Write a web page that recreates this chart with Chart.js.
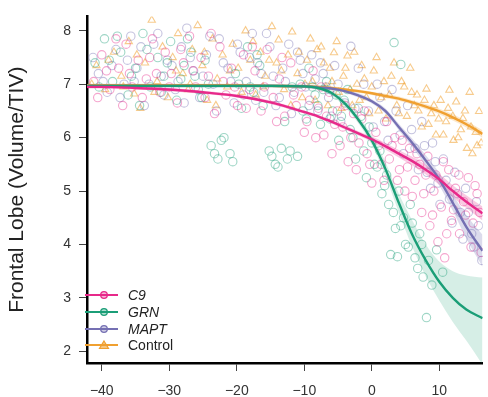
<!DOCTYPE html>
<html>
<head>
<meta charset="utf-8">
<script src="https://cdn.jsdelivr.net/npm/chart.js@4.4.1/dist/chart.umd.min.js"></script>
<style>
  body { margin: 0; background: #fff; }
  #wrap { position: relative; width: 488px; height: 397px; }
  #legend { position: absolute; left: 85px; top: 287px; font: 14px "Liberation Sans", Arial, sans-serif; color: #222; }
  #legend div { height: 16.7px; display: flex; align-items: center; }
  #legend svg { margin-right: 10px; }
  #legend i { font-style: italic; }
</style>
</head>
<body>
<div id="wrap">
  <canvas id="lobeChart" width="488" height="397"></canvas>
  <div id="legend"></div>
</div>
<script>
// --- data ---
const xTicks = [-40, -30, -20, -10, 0, 10];
const yTicks = [2, 3, 4, 5, 6, 7, 8];

const groups = ['C9', 'GRN', 'MAPT', 'Control'];
const colors = ['#E7298A', '#1B9E77', '#7570B3', '#F0A030'];

// fitted curves (x positions shared)
const fitX = [-42.2, -40, -35, -30, -25, -20, -15, -10, -8, -6, -4, -2, 0, 2, 4, 6, 8, 10, 12, 14, 16.4];
const c9Fit   = [6.95, 6.95, 6.93, 6.9, 6.85, 6.78, 6.66, 6.48, 6.4, 6.3, 6.19, 6.08, 5.97, 5.84, 5.7, 5.56, 5.4, 5.22, 5.0, 4.8, 4.58];
const c9Hi    = [6.98, 6.98, 6.96, 6.93, 6.88, 6.81, 6.69, 6.51, 6.43, 6.33, 6.23, 6.12, 6.02, 5.9, 5.77, 5.64, 5.49, 5.32, 5.11, 4.92, 4.71];
const c9Lo    = [6.92, 6.92, 6.9, 6.87, 6.82, 6.75, 6.63, 6.45, 6.37, 6.27, 6.15, 6.04, 5.92, 5.78, 5.63, 5.48, 5.31, 5.12, 4.89, 4.68, 4.45];
const grnFit  = [6.97, 6.97, 6.97, 6.97, 6.97, 6.97, 6.97, 6.96, 6.93, 6.84, 6.64, 6.34, 5.95, 5.42, 4.78, 4.18, 3.7, 3.3, 3.0, 2.78, 2.62];
const grnHi   = [7.0, 7.0, 7.0, 7.0, 7.0, 7.0, 7.0, 6.99, 6.97, 6.89, 6.7, 6.41, 6.04, 5.55, 4.95, 4.45, 4.0, 3.68, 3.5, 3.42, 3.38];
const grnLo   = [6.94, 6.94, 6.94, 6.94, 6.94, 6.94, 6.94, 6.93, 6.89, 6.79, 6.58, 6.27, 5.86, 5.29, 4.6, 3.95, 3.4, 2.95, 2.55, 2.2, 1.75];
const maptFit = [6.97, 6.97, 6.97, 6.97, 6.97, 6.97, 6.97, 6.96, 6.94, 6.92, 6.87, 6.79, 6.68, 6.5, 6.2, 5.9, 5.57, 5.22, 4.78, 4.33, 3.88];
const maptHi  = [7.0, 7.0, 7.0, 7.0, 7.0, 7.0, 7.0, 6.99, 6.97, 6.95, 6.9, 6.83, 6.72, 6.55, 6.26, 5.98, 5.67, 5.34, 4.93, 4.55, 4.18];
const maptLo  = [6.94, 6.94, 6.94, 6.94, 6.94, 6.94, 6.94, 6.93, 6.91, 6.89, 6.84, 6.75, 6.64, 6.45, 6.14, 5.82, 5.47, 5.1, 4.63, 4.11, 3.58];
const ctrlFit = [6.98, 6.98, 6.98, 6.98, 6.98, 6.98, 6.97, 6.96, 6.95, 6.93, 6.9, 6.87, 6.83, 6.78, 6.73, 6.66, 6.58, 6.49, 6.38, 6.25, 6.07];
const ctrlHi  = [7.01, 7.01, 7.01, 7.01, 7.01, 7.01, 7.0, 6.99, 6.98, 6.96, 6.93, 6.9, 6.86, 6.82, 6.77, 6.7, 6.63, 6.54, 6.44, 6.31, 6.14];
const ctrlLo  = [6.95, 6.95, 6.95, 6.95, 6.95, 6.95, 6.94, 6.93, 6.92, 6.9, 6.87, 6.84, 6.8, 6.74, 6.69, 6.62, 6.53, 6.44, 6.32, 6.19, 6.0];

// observations [years to onset, volume/TIV]
const c9Points = [[-41.2,7.05],[-40.0,7.55],[-38.8,6.9],[-37.5,7.3],[-36.4,7.75],[-35.5,6.95],[-34.6,7.45],[-33.4,7.1],[-32.5,7.85],[-31.4,6.85],[-30.6,7.6],[-29.7,7.2],[-28.8,6.65],[-27.9,7.4],[-27.0,7.9],[-26.1,6.95],[-25.3,7.5],[-24.2,7.15],[-23.3,6.45],[-22.5,7.7],[-21.6,6.8],[-20.8,7.3],[-19.9,6.6],[-19.0,7.55],[-18.1,6.9],[-17.3,7.25],[-16.4,6.5],[-15.5,7.65],[-14.6,6.75],[-13.7,7.1],[-12.9,6.4],[-12.0,7.4],[-11.2,6.6],[-10.4,6.95],[-9.6,6.3],[-8.7,7.25],[-7.9,6.55],[-7.1,6.05],[-6.3,6.85],[-5.5,6.25],[-4.7,5.85],[-3.9,6.6],[-3.1,6.0],[-2.3,5.4],[-1.5,6.35],[-0.7,5.7],[0.0,5.15],[0.6,6.1],[1.4,5.5],[2.2,6.3],[3.0,5.85],[3.8,5.2],[4.5,5.95],[5.3,5.45],[6.0,4.9],[6.7,5.7],[7.4,4.6],[8.0,5.3],[8.6,4.35],[9.2,5.0],[9.8,4.05],[10.3,4.7],[10.8,3.75],[11.4,5.4],[11.8,4.45],[12.4,5.05],[13.0,4.2],[13.6,4.8],[14.3,5.25],[15.0,4.4],[15.6,4.95],[16.2,3.85],
  [-40.6,6.75],[-39.3,7.25],[-37.9,7.85],[-36.9,6.6],[-35.9,7.2],[-34.0,6.75],[-32.9,7.5],[-31.9,7.2],[-30.0,6.95],[-28.3,7.65],[-26.5,7.25],[-24.7,6.75],[-23.8,7.95],[-22.0,7.05],[-20.3,6.95],[-18.6,6.55],[-17.7,7.7],[-15.9,6.95],[-14.1,6.3],[-13.3,7.5],[-11.6,6.8],[-10.0,6.1],[-9.2,6.7],[-8.3,6.0],[-7.5,6.95],[-6.7,6.4],[-5.9,5.7],[-5.1,6.5],[-4.3,6.2],[-3.5,5.55],[-2.7,6.45],[-1.9,5.9],[-1.1,6.5],[-0.3,5.5],[1.0,5.85],[1.8,5.2],[2.6,5.6],[3.4,6.0],[4.1,5.4],[4.9,5.0],[5.6,5.8],[6.4,5.2],[7.1,5.5],[7.7,4.95],[8.3,5.65],[9.0,4.55],[9.5,5.3],[10.6,5.55],[11.1,4.2],[12.1,4.65],[12.9,5.3],[13.9,4.55],[14.7,3.95],[15.3,5.1],[16.0,4.6]];
const grnPoints = [[-41.0,7.4],[-39.6,7.85],[-38.4,7.05],[-37.2,7.6],[-36.1,6.8],[-35.0,7.3],[-33.9,7.95],[-32.8,6.95],[-31.7,7.5],[-30.8,7.15],[-29.8,7.8],[-28.9,6.7],[-27.8,7.35],[-26.8,7.6],[-25.7,6.9],[-24.7,7.45],[-23.8,5.85],[-22.8,5.6],[-21.9,6.0],[-21.0,5.7],[-20.2,7.2],[-19.3,6.55],[-18.4,7.7],[-17.5,6.85],[-16.6,7.35],[-15.2,5.75],[-14.3,5.5],[-13.4,5.8],[-12.5,5.6],[-11.8,6.95],[-11.0,5.65],[-10.2,6.5],[-9.3,7.3],[-8.4,6.8],[-7.6,6.25],[-6.7,7.05],[-5.8,6.5],[-4.9,5.95],[-4.1,6.7],[-3.2,6.15],[-2.4,5.6],[-1.6,6.4],[-0.8,5.25],[0.0,5.9],[0.8,5.45],[1.5,4.95],[2.2,5.3],[2.8,3.81],[3.2,4.6],[3.3,7.78],[3.8,3.77],[4.3,4.35],[4.3,7.37],[5.0,4.0],[5.7,4.75],[6.4,3.75],[7.1,4.2],[7.6,3.39],[8.1,2.63],[8.9,3.24],[9.6,3.9],[10.5,3.48],
  [-40.4,6.95],[-38.9,7.45],[-37.7,7.9],[-35.6,7.15],[-34.4,6.6],[-33.3,7.65],[-31.2,6.85],[-30.3,7.4],[-28.3,7.1],[-27.3,7.85],[-26.2,7.15],[-25.2,6.75],[-24.2,7.0],[-23.3,5.7],[-22.3,5.95],[-20.6,5.55],[-19.7,7.0],[-18.0,6.95],[-17.0,7.55],[-16.1,6.6],[-14.8,5.65],[-13.9,5.45],[-12.9,6.3],[-12.1,5.75],[-10.6,7.0],[-9.7,6.35],[-8.8,6.95],[-8.0,6.6],[-7.2,6.9],[-6.2,6.35],[-5.3,6.8],[-4.5,6.4],[-3.6,6.9],[-2.8,6.0],[-2.0,6.55],[-1.2,5.75],[-0.4,6.2],[0.4,5.5],[1.2,5.75],[1.9,5.1],[2.5,4.75],[3.5,4.3],[4.0,5.0],[4.7,4.5],[5.4,3.95],[6.0,4.4],[6.8,3.55],[7.4,4.0],[8.4,3.7]];
const maptPoints = [[-40.5,7.2],[-39.2,6.85],[-37.9,7.65],[-36.7,7.0],[-35.7,7.9],[-34.8,7.3],[-33.7,6.6],[-32.3,7.75],[-31.2,7.15],[-30.3,7.45],[-29.1,6.9],[-28.2,7.7],[-27.4,8.05],[-26.4,7.25],[-25.5,6.75],[-24.5,7.55],[-23.5,7.0],[-22.6,7.85],[-21.3,7.3],[-20.4,6.65],[-19.5,7.6],[-18.6,7.05],[-17.7,7.95],[-16.9,7.4],[-16.0,6.85],[-15.1,7.7],[-14.2,6.6],[-13.2,7.3],[-12.3,7.75],[-11.5,6.85],[-10.6,7.45],[-9.8,6.95],[-8.9,7.55],[-8.0,6.5],[-7.2,7.2],[-6.4,6.75],[-5.5,7.35],[-4.6,6.3],[-3.1,7.71],[-2.5,6.55],[-1.2,7.0],[0.2,6.2],[1.2,6.75],[2.4,5.95],[3.6,6.5],[4.7,5.7],[5.9,6.15],[6.9,5.4],[7.8,5.85],[8.7,5.05],[9.4,5.55],[10.1,4.75],[11.0,5.2],[11.9,4.4],[12.7,4.95],[13.5,4.1],[14.3,4.6],[15.1,3.95],[15.8,4.35],[16.3,3.7],
  [-41.3,7.5],[-39.8,7.05],[-38.5,7.35],[-37.3,6.75],[-36.2,7.45],[-35.2,7.05],[-34.2,7.7],[-33.0,7.0],[-31.7,7.95],[-30.8,6.8],[-29.6,7.35],[-28.7,7.05],[-27.8,6.65],[-26.9,7.5],[-25.0,7.15],[-24.0,7.9],[-23.0,6.5],[-22.0,7.4],[-20.9,7.05],[-19.9,7.75],[-19.0,6.8],[-18.1,7.5],[-17.2,6.7],[-16.4,7.2],[-15.6,7.95],[-14.6,7.15],[-13.7,6.75],[-12.8,7.05],[-11.9,6.45],[-11.0,7.6],[-10.2,7.2],[-9.3,6.6],[-8.4,7.1],[-7.6,7.4],[-6.8,6.95],[-6.0,6.4],[-5.0,7.0],[-4.0,6.65],[-2.0,7.3],[-0.5,6.5],[0.8,7.0],[1.9,6.3],[3.0,6.9],[4.2,6.05],[5.3,6.6],[6.4,5.8],[7.4,6.3],[8.2,5.35],[9.0,5.9],[9.8,5.15],[10.6,5.6],[11.5,4.85],[12.3,5.35],[13.1,4.6],[13.9,5.05],[14.8,4.2],[15.5,4.8]];
const ctrlPoints = [[-40.8,7.35],[-39.5,6.9],[-38.2,7.6],[-37.1,7.15],[-36.0,7.8],[-35.2,6.82],[-34.3,6.55],[-33.6,7.4],[-32.6,8.2],[-31.8,7.05],[-31.0,7.7],[-30.2,6.75],[-29.5,7.5],[-28.7,7.95],[-28.0,7.2],[-27.2,6.9],[-26.6,7.65],[-25.8,8.1],[-25.1,7.35],[-24.4,6.7],[-23.6,7.85],[-22.9,7.1],[-22.1,7.55],[-21.4,6.95],[-20.6,7.75],[-19.8,7.3],[-18.7,8.0],[-18.0,7.45],[-17.2,6.8],[-16.5,7.6],[-15.8,7.15],[-14.8,8.08],[-14.1,7.4],[-13.8,7.83],[-13.0,6.9],[-12.4,7.55],[-11.8,7.98],[-11.0,7.2],[-10.3,6.75],[-9.6,7.45],[-8.8,7.05],[-8.1,7.65],[-7.5,7.7],[-6.8,6.95],[-6.2,7.3],[-5.6,7.59],[-4.9,6.85],[-4.2,7.15],[-3.6,7.53],[-2.9,6.6],[-2.2,7.0],[-1.5,7.35],[-0.8,6.75],[0.3,7.25],[1.0,6.5],[1.8,7.05],[2.6,6.8],[3.3,7.4],[4.0,6.45],[4.8,6.95],[5.7,7.3],[6.3,6.6],[6.7,6.8],[7.4,6.2],[8.1,6.91],[8.8,6.45],[9.5,6.05],[10.2,6.7],[11.0,6.3],[11.5,6.89],[12.1,5.95],[12.5,6.67],[13.2,6.15],[13.5,6.36],[14.1,5.8],[14.5,6.85],[14.9,5.7],[15.4,6.1],[15.9,6.49],[16.2,5.9],
  [-41.5,7.0],[-39.0,7.45],[-36.8,6.95],[-34.8,7.55],[-32.2,6.85],[-29.0,7.25],[-26.9,7.0],[-24.8,7.6],[-23.1,6.6],[-21.0,7.25],[-19.3,6.85],[-17.6,7.8],[-16.1,6.95],[-15.2,7.45],[-13.4,7.25],[-12.0,6.6],[-10.8,7.6],[-9.9,7.0],[-9.1,7.85],[-8.4,6.7],[-7.1,7.4],[-6.5,6.6],[-5.9,7.05],[-5.2,7.8],[-4.5,6.55],[-3.9,7.3],[-3.2,6.9],[-2.6,7.6],[-1.8,6.7],[-1.1,7.1],[-0.4,6.45],[0.0,6.95],[0.7,7.5],[1.4,6.75],[2.1,6.35],[2.9,7.15],[3.7,6.6],[4.4,7.05],[5.2,6.4],[5.9,6.85],[6.9,6.5],[7.8,6.7],[8.4,6.25],[9.2,6.6],[9.9,6.35],[10.6,6.05],[11.3,6.55],[12.0,6.4],[12.8,6.0],[13.8,6.5],[14.7,6.2],[15.6,5.85]];

const fits  = [c9Fit, grnFit, maptFit, ctrlFit];
const his   = [c9Hi, grnHi, maptHi, ctrlHi];
const los   = [c9Lo, grnLo, maptLo, ctrlLo];
const obs   = [c9Points, grnPoints, maptPoints, ctrlPoints];
const bandAlpha = [0.25, 0.18, 0.25, 0.25];
const pointAlpha = [0.42, 0.42, 0.42, 0.55];

function rgba(hex, a) {
  const n = parseInt(hex.slice(1), 16);
  return `rgba(${n >> 16},${(n >> 8) & 255},${n & 255},${a})`;
}
const curve = arr => arr.map((y, i) => ({ x: fitX[i], y: y }));

const datasets = [];
groups.forEach((g, i) => {
  // fitted line on top
  datasets.push({
    type: 'line', label: g, data: curve(fits[i]), borderColor: colors[i], borderWidth: 2.4,
    pointRadius: 0, cubicInterpolationMode: 'monotone', fill: false, order: 1
  });
});
groups.forEach((g, i) => {
  // confidence band: upper filled down to lower
  datasets.push({
    type: 'line', label: g + ' hi', data: curve(his[i]), borderWidth: 0, pointRadius: 0,
    cubicInterpolationMode: 'monotone', backgroundColor: rgba(colors[i], bandAlpha[i]), fill: '+1', order: 2
  });
  datasets.push({
    type: 'line', label: g + ' lo', data: curve(los[i]), borderWidth: 0, pointRadius: 0,
    cubicInterpolationMode: 'monotone', fill: false, order: 2
  });
});
groups.forEach((g, i) => {
  datasets.push({
    type: 'scatter', label: g + ' obs', data: obs[i].map(p => ({ x: p[0], y: p[1] })),
    pointStyle: g === 'Control' ? 'triangle' : 'circle', pointRadius: 4.2,
    borderColor: rgba(colors[i], pointAlpha[i]), backgroundColor: 'rgba(0,0,0,0)', borderWidth: 1.1, order: 3
  });
});

const font = { family: '"Liberation Sans", Arial, sans-serif', size: 14 };

new Chart(document.getElementById('lobeChart').getContext('2d'), {
  data: { datasets: datasets },
  options: {
    responsive: false,
    animation: false,
    layout: { padding: { top: 7, right: 0, left: 0, bottom: 0 } },
    plugins: { legend: { display: false }, tooltip: { enabled: false } },
    scales: {
      x: {
        type: 'linear', min: -42.19, max: 16.43,
        afterBuildTicks: s => { s.ticks = xTicks.map(v => ({ value: v })); },
        afterFit: s => { s.height = 34; },
        grid: { drawOnChartArea: false, tickLength: 8, color: '#444', lineWidth: 1 },
        border: { color: '#000', width: 2.5 },
        ticks: { font: font, color: '#333', padding: 12, callback: v => String(v).replace('-', '\u2212') }
      },
      y: {
        type: 'linear', min: 1.78, max: 8.27,
        afterBuildTicks: s => { s.ticks = yTicks.map(v => ({ value: v })); },
        afterFit: s => { s.width = 87; },
        grid: { drawOnChartArea: false, tickLength: 8, color: '#444', lineWidth: 1 },
        border: { color: '#000', width: 2.5 },
        ticks: { font: font, color: '#333', padding: 8 },
        title: {
          display: true, text: 'Frontal Lobe (Volume/TIV)', color: '#222',
          font: { family: '"Liberation Sans", Arial, sans-serif', size: 21 },
          padding: { top: 5, bottom: 0 }
        }
      }
    }
  }
});

// legend drawn inside the plot, bottom left
const legend = document.getElementById('legend');
groups.forEach((g, i) => {
  const marker = g === 'Control'
    ? `<polygon points="19,2 23.5,9.5 14.5,9.5" fill="${rgba(colors[i], 0.6)}" stroke="${colors[i]}" stroke-width="1.2"/>`
    : `<circle cx="19" cy="6" r="3.3" fill="${rgba(colors[i], 0.35)}" stroke="${colors[i]}" stroke-width="1.3"/>`;
  const row = document.createElement('div');
  row.innerHTML = `<svg width="33" height="12"><line x1="0" y1="6" x2="33" y2="6" stroke="${colors[i]}" stroke-width="2.2"/>${marker}</svg>`
    + (g === 'Control' ? `<span>${g}</span>` : `<i>${g}</i>`);
  legend.appendChild(row);
});
</script>
</body>
</html>
